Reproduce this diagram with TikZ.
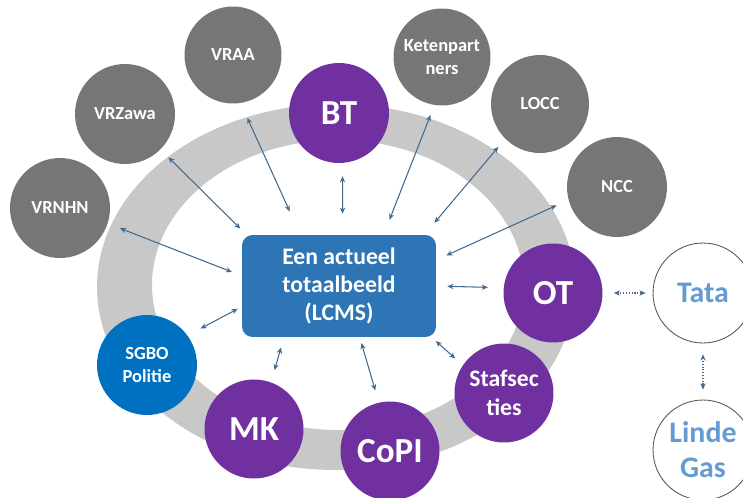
\documentclass[tikz,border=0pt]{standalone}
\usepackage{fontspec}
\setmainfont{Carlito}
\usetikzlibrary{arrows.meta}

\definecolor{ringgray}{RGB}{200,200,200}
\definecolor{unitgray}{RGB}{118,118,118}
\definecolor{crisispurple}{RGB}{112,48,160}
\definecolor{policeblue}{RGB}{0,112,192}
\definecolor{lcmsblue}{RGB}{46,117,182}
\definecolor{linkblue}{RGB}{65,105,145}
\definecolor{companyblue}{RGB}{100,155,210}

\begin{document}
\begin{tikzpicture}[x=0.02cm, y=-0.02cm,
	partner/.style={circle, fill=unitgray, text=white, minimum size=1.96cm, inner sep=0pt, align=center, font=\bfseries\fontsize{10.5}{13}\selectfont},
	team/.style={circle, fill=crisispurple, text=white, minimum size=1.98cm, inner sep=0pt, align=center, font=\bfseries\fontsize{20}{24}\selectfont},
	company/.style={circle, draw=gray!70!black, line width=0.5pt, fill=white, text=companyblue, minimum size=2cm, inner sep=0pt, align=center, font=\bfseries\fontsize{17}{20}\selectfont},
	link/.style={linkblue, line width=0.6pt, {Stealth[length=3.5pt,width=3pt]}-{Stealth[length=3.5pt,width=3pt]}},
	loose/.style={link, densely dotted}]
		\useasboundingbox (0,0) rectangle (743,497);
		\clip (0,0) rectangle (743,497);

		% grey ring
		\fill[ringgray, even odd rule] (336,287) ellipse [x radius=239, y radius=183]
			(338,285) ellipse [x radius=186, y radius=145];

		\node[fill=lcmsblue, rounded corners=6pt, minimum width=3.88cm, minimum height=2.04cm, text=white, align=center, font=\bfseries\fontsize{13.5}{16}\selectfont] (lcms) at (339,286) {Een actueel\\totaalbeeld\\(LCMS)};

		\node[partner, minimum size=2cm] (vrnhn) at (60,208) {VRNHN};
		\node[partner, minimum size=2cm] (vrzawa) at (125,114) {VRZawa};
		\node[partner, minimum size=1.94cm] (vraa) at (233,55) {VRAA};
		\node[partner, minimum size=1.94cm] (keten) at (442,57) {Ketenpart\\ners};
		\node[partner] (locc) at (540,104) {LOCC};
		\node[partner, minimum size=2cm] (ncc) at (617,187) {NCC};

		\node[team, minimum size=2cm] (bt) at (339,113) {BT};
		\node[team] (ot) at (553,293) {OT};
		\node[team, font=\bfseries\fontsize{13.5}{16.5}\selectfont] (staf) at (504,393) {Stafsec\\ties};
		\node[team] (copi) at (390,451) {CoPI};
		\node[team] (mk) at (254,429) {MK};
		\node[partner, fill=policeblue, minimum size=2cm] (sgbo) at (147,365) {SGBO\\Politie};

		\node[company] (tata) at (703,293) {Tata};
		\node[company] (linde) at (703,450) {Linde\\Gas};

		% arrows to the LCMS
		\draw[link, shorten <=0.26cm, shorten >=0.21cm] (vrnhn.-18) -- (lcms.174);
		\draw[link, shorten <=0.22cm, shorten >=0.17cm] (vrzawa.-45) -- (lcms.151);
		\draw[link, shorten <=0.32cm, shorten >=0.51cm] (vraa.-81) -- (lcms.127);
		\draw[link, shorten <=0.26cm, shorten >=0.42cm] (bt.-86) -- (lcms.86);
		\draw[link, shorten <=0.21cm, shorten >=0.32cm] (keten.-99) -- (lcms.49);
		\draw[link, shorten <=0.21cm, shorten >=0.31cm] (locc.225) -- (lcms.31);
		\draw[link, shorten <=0.26cm, shorten >=0.22cm] (ncc.195) -- (lcms.15);
		\draw[link, shorten <=0.31cm, shorten >=0.22cm] (ot.174) -- (lcms.0);
		\draw[link, shorten <=0.2cm, shorten >=0.11cm] (staf.146) -- (lcms.-29);
		\draw[link, shorten <=0.25cm, shorten >=0.12cm] (copi.103) -- (lcms.-68);
		\draw[link, shorten <=0.25cm, shorten >=0.21cm] (mk.70) -- (lcms.223);
		\draw[link, shorten <=0.29cm, shorten >=0.09cm] (sgbo.36) -- (lcms.192);

		\draw[loose, shorten <=0.22cm, shorten >=0.14cm] (ot) -- (tata);
		\draw[loose, shorten <=0.22cm, shorten >=0.2cm] (tata) -- (linde);
	\end{tikzpicture}
\end{document}
